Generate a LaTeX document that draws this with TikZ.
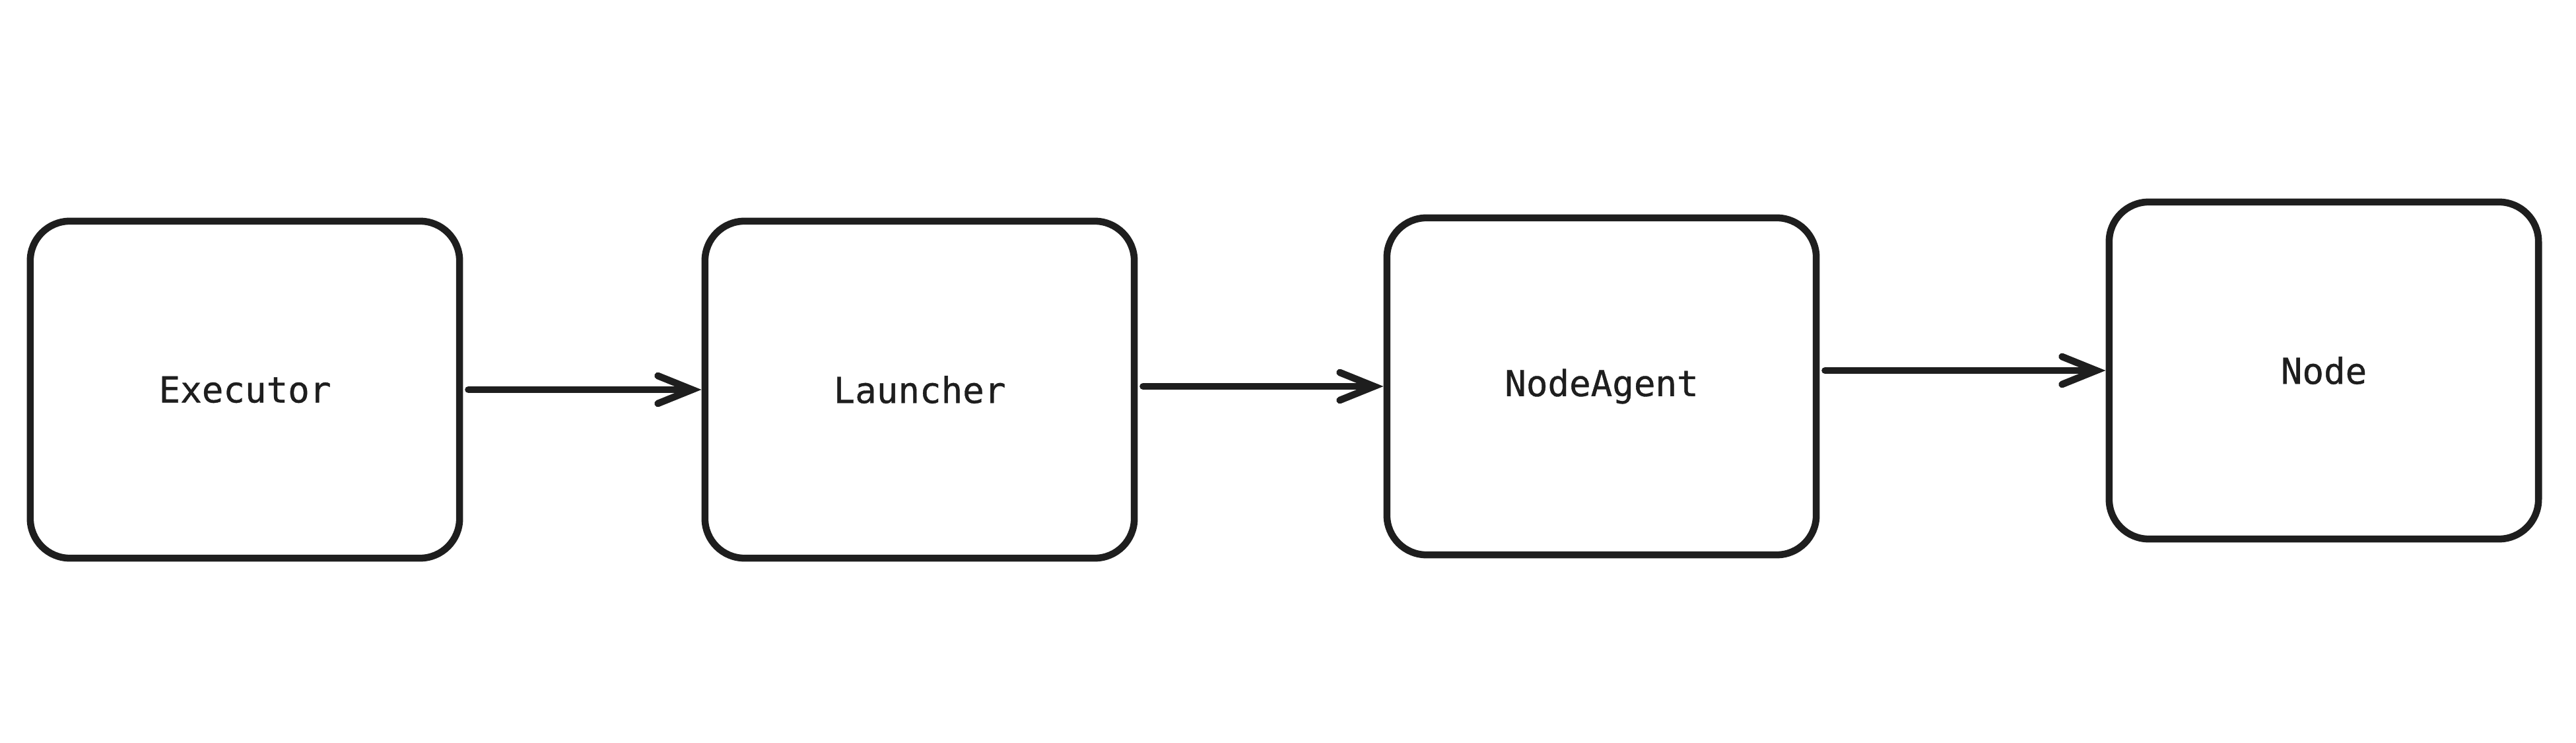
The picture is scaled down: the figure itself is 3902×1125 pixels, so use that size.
\documentclass[tikz,border=0pt]{standalone}
\usepackage{fontspec}
\newfontfamily\labelfont{DejaVu Sans Mono}[FakeBold=0.7]
\usetikzlibrary{arrows.meta}
\definecolor{ink}{HTML}{1E1E1E}

\begin{document}
\begin{tikzpicture}[x=0.01cm, y=-0.01cm]
  \tikzstyle{box}=[draw=ink, text=ink, line width=3pt, rounded corners=0.6cm, minimum width=6.5cm, minimum height=5.1cm, inner sep=0pt, font=\fontsize{15.4}{18}\selectfont\labelfont]
  \tikzstyle{suite}=[-{Straight Barb[length=0.52cm, width=0.42cm, line cap=round]}, draw=ink, line width=3pt, line cap=round]

  \useasboundingbox (0,0) rectangle (3902,1125); % page size
  \node[box] (A) at (371, 590) {Executor};
  \node[box] (B) at (1393, 590) {Launcher};
  \node[box] (C) at (2426, 585) {NodeAgent};
  \node[box] (D) at (3520, 561) {Node};
  \draw[suite, shorten <=0.08cm] (A.east) -- (B.west); % Executor to Launcher
  \draw[suite, shorten <=0.08cm] (B.east |- C.west) -- (C.west); % Launcher to NodeAgent
  \draw[suite, shorten <=0.08cm] (C.east |- D.west) -- (D.west); % NodeAgent to Node
\end{tikzpicture}
\end{document}
